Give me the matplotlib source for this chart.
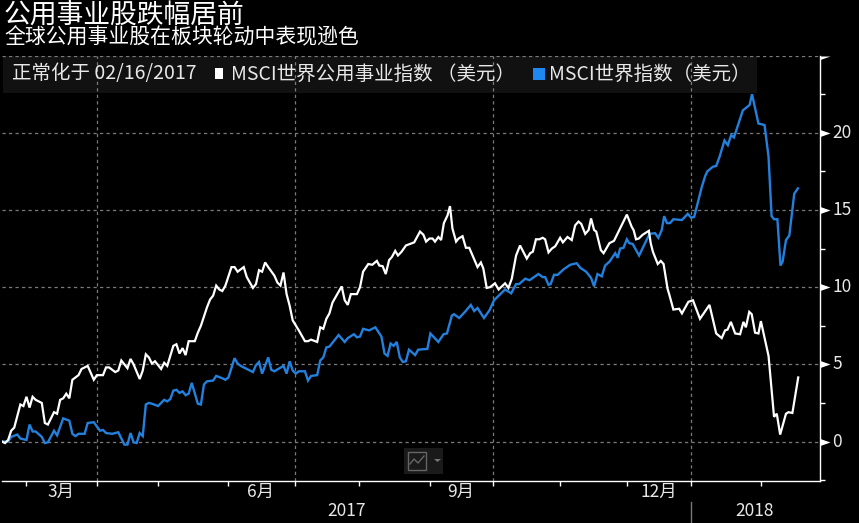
import matplotlib
matplotlib.use("Agg")
import matplotlib.pyplot as plt
import matplotlib.transforms as mtrans
from matplotlib.patches import Rectangle
from matplotlib.path import Path
from matplotlib.lines import Line2D

plt.rcParams['font.family'] = ['Noto Sans CJK SC', 'DejaVu Sans']

W, H = 859, 523

title = "公用事业股跌幅居前"
subtitle = "全球公用事业股在板块轮动中表现逊色"
norm_label = "正常化于 02/16/2017"
utilities_label = "MSCI世界公用事业指数 （美元）"
world_label = "MSCI世界指数（美元）"

# trading-day offset from 02/16/2017 and % change
util_days = [0,1,2,3,4,6,7,8,9,10,11,13,14,15,17,18,19,20,21,22,23,25,26,28,30,31,33,34,35,37,38,39,41,42,43,45,46,47,48,49,50,52,53,54,56,57,58,59,60,61,63,64,65,67,68,69,70,71,72,73,75,76,77,79,80,82,83,84,85,86,87,89,90,91,92,93,94,95,97,99,100,101,103,104,105,106,107,108,111,112,113,114,116,117,118,119.7,
             121,122.5,123.3,124.4,125.4,126.5,127.4,128.5,129.4,130.6,132,133.4,134.7,136.6,137.7,138.6,139.7,140.7,141.5,142.6,143.5,144.4,145.6,146.4,147.2,148.4,149.2,150.5,151.6,152.7,154,155.4,156.5,157.3,158.4,159.5,161.1,162.3,164.4,165.5,166.6,168,169.3,171.5,172.6,173.5,174.5,175.6,176.7,177.5,178.6,179.7,180.8,182.4,
             183.3,184.8,186.2,187.3,188.4,189.3,190.6,191.7,192.5,193.5,194.2,195.7,196.6,198.5,200,204.2,205.8,206.4,207.2,208.1,209.4,211.4,212,212.7,214.3,215.3,216.2,217.5,218.1,219.4,221.3,222.2,224.3,
             225.8,228.1,231.2,233.4,235.2,236.3,237.1,238.2,239.6,241.2,242.3,243.1,244.2,245,246.1,247.2,248,250.5,252.3,253.2,254.3,256.2,257,258.3,260.2]
util_vals = [0,-0.1,0.1,0.7,0.9,2.4,2.3,2.9,2.2,2.9,2.7,2.5,1.2,1.1,1.9,1.8,2.7,2.8,3.1,2.8,4.0,4.3,4.7,4.9,4.0,4.3,4.3,4.8,4.8,4.5,4.6,5.25,4.75,5.35,5.0,4.05,4.6,5.65,5.45,5.05,5.2,4.7,5.1,4.9,6.2,6.3,5.7,6.05,5.6,6.5,6.5,7.05,7.5,8.7,9.2,9.45,10.1,9.85,9.75,10.1,11.3,11.3,11.0,11.3,10.65,9.95,10.2,11.1,11.0,11.6,11.3,10.75,10.3,10.1,10.95,9.55,8.8,7.85,7.2,6.5,6.5,6.6,6.45,7.4,7.3,7.95,8.3,9.0,10.05,9.15,8.85,9.55,9.55,10.0,11.0,11.5,
             11.45,11.7,11.4,11.36,10.85,11.75,11.95,12.35,12.05,12.3,12.7,12.8,12.9,13.6,13.4,12.95,13.15,13.15,12.95,13.25,13.05,14.15,14.65,15.25,13.8,12.95,13.15,13.3,12.55,12.55,11.95,11.3,11.6,11.2,9.95,10.0,10.25,9.85,10.25,9.95,10.55,12.05,12.7,11.85,12.2,12.3,13.1,13.1,13.2,13.1,12.25,12.5,12.65,13.2,
             12.9,13.25,13.05,14.0,14.25,14.1,13.45,13.7,14.45,13.7,13.6,12.4,12.2,12.85,13.0,14.7,13.9,13.7,13.1,13.15,13.4,13.65,12.85,12.3,11.5,11.7,11.5,9.9,9.5,8.55,8.6,8.3,9.05,
             9.15,7.95,8.85,7.0,6.7,7.2,7.25,7.75,7.0,6.95,7.75,7.4,8.4,8.25,7.05,7.0,7.8,5.55,1.6,1.8,0.45,1.8,1.9,1.85,4.15]

world_days = [0,2,3,5,6,8,9,10,11,13,14,15,17,18,20,22,23,24,25,27,28,30,32,33,34,36,38,40,41,42,43,44,45,46,47,48,49,51,53,54,55,56,57,58,59,60,61,62,64,65,66,67,69,70,72,73,74,76,77,78,80,82,83,84,85,87,88,89,92,93,94,95,96,97,99,100,101,103,104,105,106,107,110,112,113,115,116,117,118,120,122,124,125,126,127,128,129,130,131,132,133,135,136,139,
              140,142.6,144.3,145.4,147,147.7,149.4,151.3,153.2,154.3,155.4,157.5,159.3,160.8,164.4,166.4,168,169,171,172.4,175.3,176.7,177.5,178.6,179.3,180.4,181.6,
              183.5,185.7,187.8,189,190.9,192.5,193.5,194.6,196,197.1,198.5,200.4,201.2,202,203.1,204.2,205,206.1,208.2,211.6,213.4,214.5,215.6,216.4,217.3,218.3,219.4,222.2,224.1,225.2,226.2,
              227.6,228.7,229.8,230.5,232.3,233.4,234.5,236.1,237.2,238.3,239.2,240.7,242.1,244.3,245.1,247.2,249.2,250.5,251.5,252.3,253.4,254.4,255.1,256.2,257.3,258.9,260.1]
world_vals = [0,0,0.3,0.45,0.2,0.1,1.1,0.65,0.65,0.3,-0.1,-0.05,0.7,0.4,1.5,1.35,0.5,0.35,0.5,0.5,1.2,1.25,0.7,0.75,0.55,0.5,0.6,-0.2,-0.2,0.55,-0.05,-0.1,0.55,0.35,2.4,2.5,2.45,2.3,2.7,2.6,2.75,3.3,3.35,3.15,3.25,3.0,3.1,3.8,2.45,2.4,3.7,3.9,3.95,4.25,4.1,4.0,4.15,5.4,5.05,4.9,4.7,4.5,4.95,5.15,4.4,5.45,4.65,4.55,4.9,4.4,5.2,4.6,4.4,4.55,4.55,3.95,4.25,4.3,5.25,5.45,6.1,6.15,6.9,6.45,6.7,6.95,6.75,6.8,7.3,7.2,7.4,6.8,5.7,5.55,6.35,6.2,6.45,5.45,5.15,5.2,5.95,5.6,5.95,6.0,
              7.0,6.45,6.95,7.0,8.15,8.25,8.0,8.4,8.85,8.45,8.65,8.0,8.5,9.15,9.85,9.6,10.2,10.2,10.55,10.45,10.85,10.65,10.65,10.15,10.2,10.8,10.8,
              11.15,11.45,11.55,11.25,11.0,10.6,10.05,10.85,10.7,11.4,11.65,12.2,11.9,12.5,12.55,13.1,12.85,12.8,12.05,13.45,13.5,13.2,13.7,14.6,14.15,14.15,14.4,14.35,14.75,14.5,14.55,
              15.65,16.5,17.2,17.5,17.8,17.85,18.45,19.5,19.2,19.85,19.7,20.6,21.45,21.8,22.5,20.6,20.5,18.45,14.6,14.4,14.4,11.4,11.65,13.05,13.35,16.05,16.4]

# month boundaries on the trading-day axis
month_ticks = [8,31.2,51.1,74,95.9,116.8,139.9,160.6,182.4,204.2,225.3,248.2]
grid_days = [31.2,95.9,160.6,225.3]
month_labels = ["3月","6月","9月","12月"]
month_label_days = [19.2,84.5,150,214.5]
year_labels = ["2017","2018"]
year_label_days = [112.5,246]
major_y = [0,5,10,15,20]
minor_y = [-2.5,2.5,7.5,12.5,17.5,22.5]
grid_y = [0,5,10,15,20,25]

BG = "#000000"; FG = "#e8e8e8"; WHITE_LINE = "#ffffff"; BLUE = "#2380dc"; GRID = "#7a7a7a"

def fx(x): return x / W
def fy(y): return 1 - y / H

fig = plt.figure(figsize=(W/100, H/100), dpi=100, facecolor=BG)
left, right, top, bottom = 2, 820, 55.6, 481.2
ax = fig.add_axes([fx(left), fy(bottom), fx(right-left), (bottom-top)/H], facecolor="none", zorder=1)
ax.set_xlim(0, (right-left)/3.06)
ax.set_ylim(-2.57, 25)

# legend band, behind the grid
fig.patches.append(Rectangle((fx(3), fy(93)), fx(754), 37/H, transform=fig.transFigure,
                             facecolor="#111111", edgecolor="none", zorder=0))

for v in grid_y:
    ax.axhline(v, color=GRID, lw=0.9, dashes=(2.6, 2.6), zorder=1)
for d in grid_days:
    ax.axvline(d, color=GRID, lw=0.9, dashes=(2.6, 2.6), zorder=1)

ax.plot(world_days, world_vals, color=BLUE, lw=1.7, solid_joinstyle="miter", zorder=3)
ax.plot(util_days, util_vals, color=WHITE_LINE, lw=1.6, solid_joinstyle="miter", zorder=4)

for s in ("top", "left"):
    ax.spines[s].set_visible(False)
for s in ("right", "bottom"):
    ax.spines[s].set_color("white")
    ax.spines[s].set_linewidth(1.0)

ax.set_xticks(month_ticks)
ax.set_xticklabels([])
ax.tick_params(axis="x", length=3.5, width=1, color="white", direction="out")
ax.yaxis.tick_right()
ax.set_yticks(minor_y)
ax.set_yticklabels([])
ax.tick_params(axis="y", length=3.5, width=1, color="white", direction="out")

# triangular major ticks + labels
yt = ax.get_yaxis_transform()
tri = Path([(0,0.35),(1,0),(0,-0.35),(0,0.35)], closed=True)
half = Path([(0,0),(1,0),(0,-0.35),(0,0)], closed=True)
lab_off = mtrans.ScaledTranslation(12/100, 0, fig.dpi_scale_trans)
for v in major_y:
    ax.add_line(Line2D([1], [v], transform=yt, marker=tri, ms=14.4, color="white", mec="none", clip_on=False, zorder=6))
    ax.text(1.0, v, str(v), transform=yt + lab_off, ha="left", va="center",
            fontsize=12.5, color=FG, clip_on=False)
ax.add_line(Line2D([1], [25], transform=yt, marker=half, ms=14.4, color="white", mec="none", clip_on=False, zorder=6))

xt = ax.get_xaxis_transform()
off1 = mtrans.ScaledTranslation(0, -11/100, fig.dpi_scale_trans)
off2 = mtrans.ScaledTranslation(0, -30/100, fig.dpi_scale_trans)
for d, s in zip(month_label_days, month_labels):
    ax.text(d, 0, s, transform=xt + off1, ha="center", va="center", fontsize=12.5, color=FG, clip_on=False)
for d, s in zip(year_label_days, year_labels):
    ax.text(d, 0, s, transform=xt + off2, ha="center", va="center", fontsize=12.5, color=FG, clip_on=False)
fig.add_artist(Line2D([fx(691)]*2, [fy(502), fy(523)], color="#777777", lw=1))

# titles
fig.text(fx(4), fy(15), title, fontsize=19.3, color=WHITE_LINE, va="center", ha="left")
fig.text(fx(4), fy(37), subtitle, fontsize=15, color=WHITE_LINE, va="center", ha="left")

# legend
fig.text(fx(12), fy(74), norm_label, fontsize=14, color=FG, va="center", ha="left", zorder=5)
fig.patches.append(Rectangle((fx(215), fy(79)), 8.5/W, 11/H, transform=fig.transFigure, facecolor="white", edgecolor="none", zorder=5))
fig.text(fx(231), fy(74), utilities_label, fontsize=14, color=FG, va="center", ha="left", zorder=5)
fig.patches.append(Rectangle((fx(533), fy(80)), 12/W, 12/H, transform=fig.transFigure, facecolor="#1e88f0", edgecolor="none", zorder=5))
fig.text(fx(549), fy(74), world_label, fontsize=14, color=FG, va="center", ha="left", zorder=5)

# chart-type button
fig.add_artist(Rectangle((fx(404), fy(474)), 39/W, 26/H, transform=fig.transFigure, facecolor="#1a1a1a", edgecolor="none"))
fig.add_artist(Rectangle((fx(408), fy(470)), 18/W, 18/H, transform=fig.transFigure, facecolor="none", edgecolor="#666666", lw=1))
fig.add_artist(Line2D([fx(410), fx(414), fx(418), fx(424)], [fy(464), fy(459), fy(463), fy(456)], color="#666666", lw=1))
fig.add_artist(plt.Polygon([(fx(434), fy(459)), (fx(441), fy(459)), (fx(437.5), fy(462))], transform=fig.transFigure, facecolor="#777777", edgecolor="none"))

fig.savefig("out.png", dpi=100, facecolor=BG)
